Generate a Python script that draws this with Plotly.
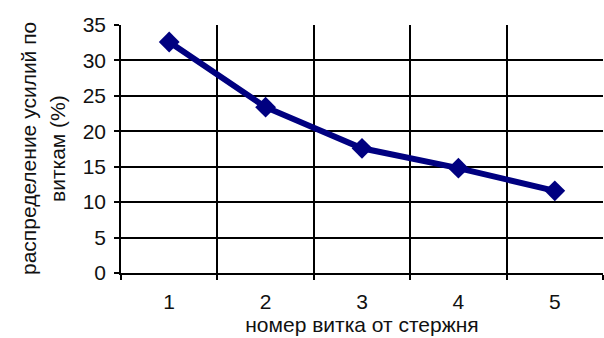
import plotly.graph_objects as go

# Turn number counted from the core, and force share per turn (%)
turns = ["1", "2", "3", "4", "5"]
force_share = [32.6, 23.4, 17.6, 14.8, 11.6]
y_ticks = [0, 5, 10, 15, 20, 25, 30, 35]

FONT = "Liberation Sans, Arial, sans-serif"
NAVY = "#000080"
TEXT = "#111111"
FS = 21

fig = go.Figure(
    go.Scatter(
        x=turns,
        y=force_share,
        mode="lines+markers",
        line=dict(color=NAVY, width=6),
        marker=dict(symbol="diamond", size=16, color=NAVY),
        showlegend=False,
    )
)

fig.update_layout(
    width=604,
    height=338,
    margin=dict(l=121, r=1, t=25, b=65),
    paper_bgcolor="white",
    plot_bgcolor="white",
    font=dict(family=FONT, size=FS, color=TEXT),
    xaxis=dict(
        type="category",
        range=[-0.5, len(turns) - 0.5],
        tickson="boundaries",
        showgrid=True,
        gridcolor="black",
        gridwidth=1.5,
        ticks="outside",
        ticklen=5,
        tickcolor="black",
        tickwidth=1.5,
        ticklabelstandoff=9,
        showline=True,
        linecolor="black",
        linewidth=1.5,
        title=dict(text="номер витка от стержня", standoff=0,
                   font=dict(family=FONT, size=FS, color=TEXT)),
    ),
    yaxis=dict(
        range=[0, 35],
        tickvals=y_ticks,
        showgrid=True,
        gridcolor="black",
        gridwidth=1.5,
        zeroline=False,
        ticks="outside",
        ticklen=5,
        tickcolor="black",
        tickwidth=1.5,
        ticklabelstandoff=4,
        showline=True,
        linecolor="black",
        linewidth=1.5,
    ),
    annotations=[
        dict(text="распределение усилий по", x=(28 - 121) / 482, y=0.5,
             xref="paper", yref="paper", textangle=-90, showarrow=False,
             xanchor="center", yanchor="middle",
             font=dict(family=FONT, size=FS, color=TEXT)),
        dict(text="виткам (%)", x=(57 - 121) / 482, y=0.5,
             xref="paper", yref="paper", textangle=-90, showarrow=False,
             xanchor="center", yanchor="middle",
             font=dict(family=FONT, size=FS, color=TEXT)),
    ],
)

fig.write_html("out.html")
